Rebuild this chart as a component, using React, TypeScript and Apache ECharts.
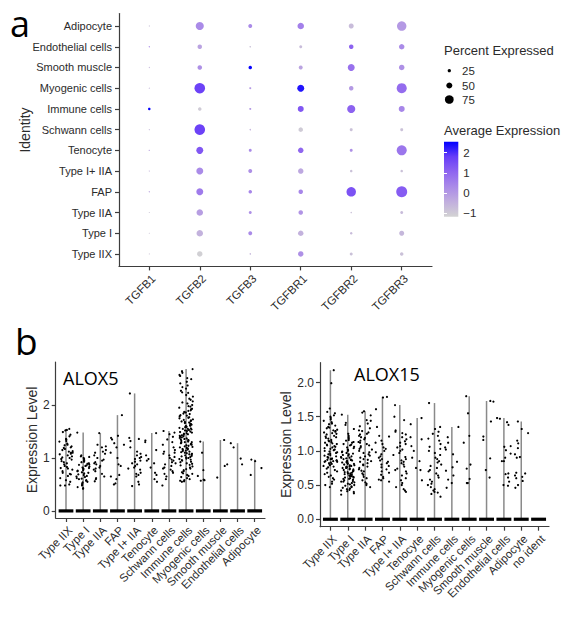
import React, { useEffect, useRef } from "react";
import * as echarts from "echarts";

// ---------- Panel a: dot plot ----------
const genes = ["TGFB1", "TGFB2", "TGFB3", "TGFBR1", "TGFBR2", "TGFBR3"];
// bottom -> top
const identities = [
  "Type IIX", "Type I", "Type IIA", "FAP", "Type I+ IIA", "Tenocyte",
  "Schwann cells", "Immune cells", "Myogenic cells", "Smooth muscle",
  "Endothelial cells", "Adipocyte",
];
// percent expressed, one row per gene, values bottom -> top identities
const pctTGFB1 = [4, 4, 4, 6, 5, 6, 5, 18, 5, 5, 6, 5];
const pctTGFB2 = [45, 55, 55, 59, 59, 59, 92, 27, 92, 36, 36, 69];
const pctTGFB3 = [8, 31, 22, 27, 31, 22, 8, 13, 13, 27, 8, 31];
const pctTGFBR1 = [45, 45, 36, 36, 45, 45, 36, 50, 59, 31, 22, 55];
const pctTGFBR2 = [22, 18, 8, 82, 18, 22, 22, 69, 36, 59, 36, 41];
const pctTGFBR3 = [27, 41, 22, 96, 18, 87, 22, 50, 87, 45, 45, 82];
// average expression (scaled)
const avgTGFB1 = [-0.9, -0.9, -0.9, -0.3, -0.6, -0.3, -0.6, 2.5, -0.6, -0.6, 0.3, -0.8];
const avgTGFB2 = [-1.1, -0.5, -0.1, 0.6, 0.3, 1.3, 1.7, -1.0, 1.7, 0.2, -0.2, 0.3];
const avgTGFB3 = [-0.6, 0.3, 0.2, 0.4, 0.2, 0.3, -0.5, 0.0, 0.0, 2.5, -0.8, 0.3];
const avgTGFBR1 = [0.2, -0.5, 0.1, 0.4, -0.3, 1.0, -1.0, 1.3, 2.3, -0.2, -0.7, 0.5];
const avgTGFBR2 = [-0.8, -0.7, -0.8, 1.4, -0.8, 0.2, -0.8, 1.1, 0.0, 0.8, 1.1, -0.7];
const avgTGFBR3 = [-0.8, -0.6, -0.7, 1.2, -0.8, 0.7, -0.8, 0.4, 0.9, 0.2, 0.3, 0.0];
const pctByGene = [pctTGFB1, pctTGFB2, pctTGFB3, pctTGFBR1, pctTGFBR2, pctTGFBR3];
const avgByGene = [avgTGFB1, avgTGFB2, avgTGFB3, avgTGFBR1, avgTGFBR2, avgTGFBR3];
const pctLegend = [25, 50, 75];
const colorTicks = [-1, 0, 1, 2];
const colorMin = -1.17;
const colorMax = 2.54;

// ---------- Panel b: violin / jitter ----------
const alox5Cats = identities.slice();
const alox15Cats = [...identities, "no ident"];
const alox5Ticks = [0, 1, 2];
const alox15Ticks = [0, 0.5, 1, 1.5, 2];

const a5TypeIIX = [1.55, 1.53, 1.52, 1.49, 1.44, 1.41, 1.36, 1.35, 1.32, 1.31, 1.27, 1.25, 1.24, 1.2, 1.19, 1.17, 1.15, 1.13, 1.12, 1.1, 1.08, 1.07, 1.05, 1.03, 1.01, 1.0, 0.98, 0.97, 0.94, 0.92, 0.9, 0.88, 0.85, 0.83, 0.81, 0.8, 0.78, 0.75, 0.72, 0.7, 0.69, 0.66, 0.62, 0.58, 0.55, 0.5, 0.48, 0.48, 1.1, 1.22];
const a5TypeI = [1.48, 1.05, 1.03, 1.02, 1.0, 0.98, 0.96, 0.95, 0.93, 0.92, 0.9, 0.89, 0.87, 0.86, 0.85, 0.84, 0.82, 0.81, 0.8, 0.79, 0.77, 0.76, 0.75, 0.73, 0.72, 0.71, 0.69, 0.68, 0.66, 0.65, 0.64, 0.62, 0.61, 0.6, 0.58, 0.57, 0.55, 0.54, 0.52, 0.5, 0.48, 0.45, 0.43, 0.42, 0.88];
const a5TypeIIA = [1.47, 1.25, 1.22, 1.2, 1.15, 1.12, 1.1, 1.08, 1.05, 1.0, 0.97, 0.95, 0.92, 0.9, 0.88, 0.85, 0.82, 0.8, 0.78, 0.75, 0.7, 0.65, 0.62, 0.6, 0.56];
const a5FAP = [1.81, 1.42, 1.38, 1.35, 1.28, 1.25, 1.2, 1.1, 1.0, 0.88, 0.85, 0.68, 0.65, 0.6, 0.52, 0.5];
const a5TypeI_IIA = [2.22, 1.38, 1.36, 1.32, 1.2, 1.12, 1.08, 1.05, 1.02, 1.0, 0.98, 0.95, 0.93, 0.9, 0.88, 0.85, 0.82, 0.8, 0.78, 0.72, 0.7, 0.68, 0.65, 0.55, 0.5, 0.47];
const a5Tenocyte = [1.47, 1.33, 1.3, 1.15, 1.05, 0.98, 0.95, 0.9, 0.82, 0.72, 0.68, 0.6, 0.55];
const a5Schwann = [1.51, 1.48, 1.45, 1.4, 1.35, 1.3, 1.25, 1.2, 1.15, 1.12, 1.1, 1.08, 1.05, 1.02, 1.0, 0.97, 0.95, 0.92, 0.9, 0.88, 0.85, 0.82, 0.8, 0.78, 0.75, 0.72, 0.7, 0.65, 0.6, 0.48];
const a5Immune = [
  2.68, 2.64, 2.61, 2.57, 2.55, 2.51, 2.49, 2.44, 2.41, 2.37, 2.34, 2.31, 2.27, 2.24, 2.23, 2.19, 2.16, 2.12, 2.1, 2.07, 2.05, 2.03, 2.0, 1.98, 1.97, 1.95, 1.93, 1.92, 1.9,
  1.89, 1.87, 1.86, 1.84, 1.83, 1.81, 1.8, 1.79, 1.77, 1.76, 1.75, 1.73, 1.72, 1.71, 1.7, 1.69, 1.68, 1.67, 1.66, 1.65, 1.64, 1.63, 1.62, 1.61, 1.6, 1.6, 1.59, 1.58, 1.57, 1.56, 1.55,
  1.55, 1.54, 1.53, 1.52, 1.51, 1.5, 1.49, 1.48, 1.47, 1.46, 1.45, 1.44, 1.43, 1.42, 1.41, 1.4, 1.39, 1.38, 1.37, 1.36, 1.35, 1.34, 1.33, 1.32, 1.31, 1.3, 1.3, 1.29, 1.28, 1.27,
  1.26, 1.25, 1.24, 1.23, 1.22, 1.21, 1.2, 1.19, 1.18, 1.17, 1.16, 1.15, 1.14, 1.13, 1.12, 1.11, 1.1, 1.09, 1.08, 1.07, 1.06, 1.05, 1.04, 1.03, 1.02, 1.01, 1.0, 0.99, 0.98,
  0.97, 0.96, 0.95, 0.93, 0.92, 0.9, 0.89, 0.87, 0.86, 0.84, 0.82, 0.8, 0.79, 0.77, 0.75, 0.73, 0.71, 0.7, 0.68, 0.66, 0.64, 0.62, 0.6, 0.58, 0.57, 0.56, 0.55,
];
const a5Myogenic = [1.31, 1.1, 0.77, 0.66, 0.58, 0.57, 0.59];
const a5Smooth = [1.34, 0.88, 0.85, 0.63];
const a5Endothelial = [1.28, 1.2, 0.99, 0.88];
const a5Adipocyte = [0.97, 0.94, 0.81, 0.68];
const alox5Values = [a5TypeIIX, a5TypeI, a5TypeIIA, a5FAP, a5TypeI_IIA, a5Tenocyte, a5Schwann, a5Immune, a5Myogenic, a5Smooth, a5Endothelial, a5Adipocyte];

const a15TypeIIX = [
  2.18, 1.99, 1.62, 1.57, 1.55, 1.52, 1.5, 1.48, 1.46, 1.44, 1.42, 1.4, 1.39, 1.37, 1.35, 1.34, 1.33, 1.31, 1.3, 1.29, 1.28, 1.27, 1.26, 1.25, 1.24, 1.22, 1.21, 1.2, 1.19, 1.18,
  1.16, 1.15, 1.14, 1.13, 1.12, 1.11, 1.1, 1.09, 1.08, 1.07, 1.06, 1.05, 1.04, 1.03, 1.02, 1.01, 1.0, 0.99, 0.98, 0.97, 0.96, 0.95, 0.94, 0.93, 0.92, 0.91, 0.9, 0.89, 0.88, 0.88,
  0.87, 0.86, 0.86, 0.85, 0.85, 0.84, 0.84, 0.83, 0.82, 0.81, 0.8, 0.79, 0.78, 0.77, 0.76, 0.74, 0.72, 0.7, 0.68, 0.66, 0.64, 0.62, 0.6, 0.58, 0.55, 0.52, 0.5, 0.47,
];
const a15TypeI = [
  1.53, 1.41, 1.38, 1.32, 1.25, 1.22, 1.2, 1.18, 1.16, 1.15, 1.13, 1.12, 1.1, 1.09, 1.08, 1.06, 1.05, 1.04, 1.02, 1.01, 1.0, 0.99, 0.98, 0.97, 0.96, 0.95, 0.94, 0.93, 0.92, 0.91,
  0.9, 0.9, 0.89, 0.88, 0.87, 0.87, 0.86, 0.85, 0.85, 0.84, 0.83, 0.83, 0.82, 0.81, 0.81, 0.8, 0.79, 0.79, 0.78, 0.77, 0.77, 0.76, 0.75, 0.75, 0.74, 0.73, 0.73, 0.72, 0.71, 0.71,
  0.7, 0.69, 0.69, 0.68, 0.67, 0.67, 0.66, 0.65, 0.65, 0.64, 0.63, 0.63, 0.62, 0.61, 0.61, 0.6, 0.59, 0.59, 0.58, 0.57, 0.56, 0.55, 0.55, 0.54, 0.53, 0.52, 0.51, 0.5, 0.49, 0.48,
  0.47, 0.46, 0.45, 0.44, 0.43, 0.42, 0.41, 0.4, 0.38, 0.36,
];
const a15TypeIIA = [
  1.58, 1.56, 1.52, 1.45, 1.44, 1.4, 1.36, 1.33, 1.3, 1.29, 1.27, 1.25, 1.24, 1.22, 1.2, 1.19, 1.17, 1.15, 1.13, 1.12, 1.1, 1.08, 1.07, 1.05, 1.03, 1.02, 1.0, 0.98,
  0.97, 0.95, 0.93, 0.92, 0.9, 0.88, 0.87, 0.85, 0.84, 0.82, 0.8, 0.79, 0.77, 0.75, 0.73, 0.71, 0.7, 0.67, 0.65, 0.62, 0.6, 0.57, 0.54, 0.52, 0.5, 0.47,
];
const a15FAP = [1.79, 1.78, 1.61, 1.35, 1.22, 1.21, 1.15, 1.12, 1.1, 1.05, 1.03, 1.0, 0.98, 0.95, 0.92, 0.9, 0.88, 0.86, 0.84, 0.82, 0.8, 0.78, 0.76, 0.73, 0.7, 0.68, 0.65, 0.62, 0.6, 0.58, 0.57, 0.55];
const a15TypeI_IIA = [1.67, 1.5, 1.45, 1.3, 1.28, 1.26, 1.24, 1.2, 1.17, 1.14, 1.12, 1.1, 1.07, 1.05, 1.02, 1.0, 0.97, 0.94, 0.91, 0.88, 0.86, 0.84, 0.82, 0.8, 0.77, 0.74, 0.72, 0.7, 0.67, 0.64, 0.6, 0.57, 0.53, 0.5, 0.47, 0.44, 0.42, 0.4];
const a15Tenocyte = [1.48, 1.39, 1.2, 1.17, 1.07, 1.0, 0.9, 0.85, 0.75, 0.72, 0.57];
const a15Schwann = [1.7, 1.35, 1.32, 1.28, 1.25, 1.22, 1.18, 1.15, 1.1, 1.06, 1.03, 1.0, 0.97, 0.94, 0.9, 0.88, 0.85, 0.83, 0.8, 0.78, 0.75, 0.72, 0.7, 0.67, 0.64, 0.61, 0.58, 0.55, 0.52, 0.5, 0.47, 0.44, 0.42, 0.4, 0.39, 0.37, 0.33];
const a15Immune = [1.35, 1.2, 1.12, 1.05, 1.02, 0.95, 0.84, 0.76, 0.71, 0.64, 0.58, 0.53, 0.46];
const a15Myogenic = [1.8, 1.55, 1.22, 1.12, 0.8, 0.74, 0.59, 0.53, 0.53];
const a15Smooth = [1.73, 1.72, 1.43, 1.21, 1.16, 0.89, 0.72, 0.61];
const a15Endothelial = [1.48, 1.47, 1.42, 1.38, 1.07, 1.06, 1.01, 0.96, 0.9, 0.85, 0.85, 0.67, 0.66, 0.61, 0.55, 0.5, 0.49];
const a15Adipocyte = [1.43, 1.32, 1.26, 1.15, 1.11, 1.04, 0.95, 0.91, 0.9, 0.68, 0.67, 0.64, 0.62, 0.6, 0.56, 0.5, 0.46];
const a15NoIdent: number[] = [];
const alox15Values = [a15TypeIIX, a15TypeI, a15TypeIIA, a15FAP, a15TypeI_IIA, a15Tenocyte, a15Schwann, a15Immune, a15Myogenic, a15Smooth, a15Endothelial, a15Adipocyte, a15NoIdent];

// ---------- helpers ----------
const colorStops = ["#D3D3D3", "#C1AEDE", "#AA8AE8", "#8E64F0", "#673DF8", "#0000FF"];
const dotSize = (p: number) => 0.6 + 0.108 * p;
// deterministic horizontal jitter (layout only, width +-0.4 like geom_jitter)
const jitter = (k: number, i: number) => {
  const s = Math.sin((k + 1) * 12.9898 + (i + 1) * 78.233) * 43758.5453;
  return ((s - Math.floor(s)) - 0.5) * 0.8;
};
const TXT = "#2b2b2b";
const AX = "#3d3d3d";
const FONT = "'Liberation Sans', Arial, sans-serif";
const FONT2 = "'Open Sans', 'Noto Sans', sans-serif";

function jitterData(values: number[][]) {
  const out: number[][] = [];
  values.forEach((list, i) => list.forEach((v, k) => out.push([i + jitter(k, i), v])));
  return out;
}
function violinData(values: number[][]) {
  return values.map((list, i) => [i, list.length ? Math.max(...list) : 0]);
}

const violinRender = (params: any, api: any) => {
  const i = api.value(0);
  const mx = api.value(1);
  const p0 = api.coord([i, 0]);
  const pt = api.coord([i, mx]);
  const pl = api.coord([i - 0.43, 0]);
  const pr = api.coord([i + 0.43, 0]);
  const children: any[] = [];
  if (mx > 0) {
    children.push({
      type: "line",
      shape: { x1: p0[0], y1: p0[1], x2: pt[0], y2: pt[1] },
      style: { stroke: "#8a8a8a", lineWidth: 1.5 },
    });
  }
  children.push({
    type: "rect",
    shape: { x: pl[0], y: p0[1] - 1.6, width: pr[0] - pl[0], height: 3.2 },
    style: { fill: "#000" },
  });
  return { type: "group", children };
};

function catAxis(grid: number, cats: string[], fontSize: number, margin: number) {
  const idx = cats.map((_, i) => i);
  return {
    type: "value",
    gridIndex: grid,
    min: -0.6,
    max: cats.length - 0.4,
    axisLine: { show: true, onZero: false, lineStyle: { color: AX, width: 1.2 } },
    axisTick: { show: true, length: 4, customValues: idx, lineStyle: { color: AX, width: 1.2 } },
    axisLabel: {
      customValues: idx,
      formatter: (v: number) => cats[Math.round(v)],
      rotate: 45,
      align: "right",
      verticalAlign: "top",
      fontSize,
      color: TXT,
      fontFamily: FONT,
      margin,
    },
    splitLine: { show: false },
  };
}

export default function App() {
  const ref = useRef<HTMLDivElement>(null);
  useEffect(() => {
    document.body.style.margin = "0";
    if (!ref.current) return;
    const chart = echarts.init(ref.current, null, { renderer: "svg" });

    const dotData: number[][] = [];
    genes.forEach((_, g) =>
      identities.forEach((_, r) => dotData.push([g, r, pctByGene[g][r], avgByGene[g][r]]))
    );
    const rowIdx = identities.map((_, i) => i);

    const gradient = new echarts.graphic.LinearGradient(
      0, 0, 0, 1,
      colorStops.slice().reverse().map((c, i, arr) => ({ offset: i / (arr.length - 1), color: c }))
    );

    const legendY = [70.7, 85.5, 99.5];
    const graphic: any[] = [
      { type: "text", x: 10, y: 23, style: { text: "a", font: `36px ${FONT2}`, fill: "#000", textVerticalAlign: "middle" } },
      { type: "text", x: 15, y: 340, style: { text: "b", font: `37px ${FONT2}`, fill: "#000", textVerticalAlign: "middle" } },
      { type: "text", x: 25, y: 130, rotation: Math.PI / 2, style: { text: "Identity", font: `14px ${FONT}`, fill: TXT, textAlign: "center", textVerticalAlign: "middle" } },
      { type: "text", x: 63, y: 377.5, style: { text: "ALOX5", font: `18px ${FONT2}`, fill: "#000", textVerticalAlign: "middle" } },
      { type: "text", x: 354, y: 374, style: { text: "ALOX15", font: `18px ${FONT2}`, fill: "#000", textVerticalAlign: "middle" } },
      { type: "text", x: 444, y: 50, style: { text: "Percent Expressed", font: `13px ${FONT}`, fill: TXT, textVerticalAlign: "middle" } },
      { type: "text", x: 444, y: 130, style: { text: "Average Expression", font: `13px ${FONT}`, fill: TXT, textVerticalAlign: "middle" } },
    ];
    pctLegend.forEach((p, i) => {
      graphic.push({ type: "circle", shape: { cx: 449.3, cy: legendY[i], r: dotSize(p) / 2 }, style: { fill: "#000" } });
      graphic.push({ type: "text", x: 462, y: legendY[i], style: { text: String(p), font: `11.5px ${FONT}`, fill: TXT, textVerticalAlign: "middle" } });
    });

    const yBase = (grid: number, min: number, max: number, ticks: number[], fmt: (v: number) => string, extra: any = {}) => ({
      type: "value",
      gridIndex: grid,
      min,
      max,
      axisLine: { show: true, onZero: false, lineStyle: { color: AX, width: 1.2 } },
      axisTick: { show: true, length: 4, customValues: ticks, lineStyle: { color: AX, width: 1.2 } },
      axisLabel: { customValues: ticks, formatter: fmt, fontSize: 12, color: TXT, fontFamily: FONT, margin: 6 },
      splitLine: { show: false },
      ...extra,
    });

    const option: any = {
      animation: false,
      backgroundColor: "#fff",
      textStyle: { fontFamily: FONT },
      grid: [
        { left: 119, top: 13.6, width: 313, height: 252.8, containLabel: false },
        { left: 55.7, top: 362, width: 209.3, height: 156, containLabel: false },
        { left: 320, top: 362.7, width: 229, height: 164, containLabel: false },
        { left: 444, top: 141.7, width: 14.3, height: 75, show: true, borderWidth: 0, backgroundColor: gradient },
      ],
      xAxis: [
        catAxis(0, genes, 11.5, 6),
        catAxis(1, alox5Cats, 11.5, 6),
        catAxis(2, alox15Cats, 11.5, 6),
        { type: "value", gridIndex: 3, show: false, min: 0, max: 1 },
      ],
      yAxis: [
        {
          ...yBase(0, -0.6, identities.length - 0.4, rowIdx, (v: number) => identities[Math.round(v)]),
          axisLabel: { customValues: rowIdx, formatter: (v: number) => identities[Math.round(v)], fontSize: 11, color: TXT, fontFamily: FONT, margin: 7 },
        },
        yBase(1, -0.134, 2.814, alox5Ticks, (v: number) => String(Math.round(v)), {
          name: "Expression Level",
          nameLocation: "middle",
          nameGap: 16,
          nameTextStyle: { fontSize: 14, color: TXT, fontFamily: FONT },
        }),
        yBase(2, -0.109, 2.29, alox15Ticks, (v: number) => v.toFixed(1), {
          name: "Expression Level",
          nameLocation: "middle",
          nameGap: 27,
          nameTextStyle: { fontSize: 14, color: TXT, fontFamily: FONT },
        }),
        {
          type: "value",
          gridIndex: 3,
          position: "right",
          min: colorMin,
          max: colorMax,
          axisLine: { show: false },
          axisTick: { show: true, inside: true, length: 3, customValues: colorTicks, lineStyle: { color: "#fff", width: 1 } },
          axisLabel: {
            customValues: colorTicks,
            formatter: (v: number) => (Math.round(v) < 0 ? "\u2212" + Math.abs(Math.round(v)) : String(Math.round(v))),
            fontSize: 11.5,
            color: TXT,
            fontFamily: FONT,
            margin: 5,
          },
          splitLine: { show: false },
        },
        {
          type: "value",
          gridIndex: 3,
          position: "left",
          min: colorMin,
          max: colorMax,
          axisLine: { show: false },
          axisTick: { show: true, inside: true, length: 3, customValues: colorTicks, lineStyle: { color: "#fff", width: 1 } },
          axisLabel: { show: false },
          splitLine: { show: false },
        },
      ],
      visualMap: [
        {
          type: "continuous",
          show: false,
          seriesIndex: 0,
          dimension: 3,
          min: colorMin,
          max: colorMax,
          inRange: { color: colorStops },
        },
      ],
      series: [
        {
          type: "scatter",
          xAxisIndex: 0,
          yAxisIndex: 0,
          data: dotData,
          symbolSize: (val: number[]) => dotSize(val[2]),
          itemStyle: { opacity: 1 },
        },
        {
          type: "custom",
          xAxisIndex: 1,
          yAxisIndex: 1,
          data: violinData(alox5Values),
          renderItem: violinRender,
        },
        {
          type: "scatter",
          xAxisIndex: 1,
          yAxisIndex: 1,
          data: jitterData(alox5Values),
          symbolSize: 2.2,
          itemStyle: { color: "#000", opacity: 1 },
        },
        {
          type: "custom",
          xAxisIndex: 2,
          yAxisIndex: 2,
          data: violinData(alox15Values),
          renderItem: violinRender,
        },
        {
          type: "scatter",
          xAxisIndex: 2,
          yAxisIndex: 2,
          data: jitterData(alox15Values),
          symbolSize: 2.2,
          itemStyle: { color: "#000", opacity: 1 },
        },
      ],
      graphic,
    };
    chart.setOption(option);
    return () => chart.dispose();
  }, []);
  return <div ref={ref} style={{ width: 567, height: 617 }} />;
}
